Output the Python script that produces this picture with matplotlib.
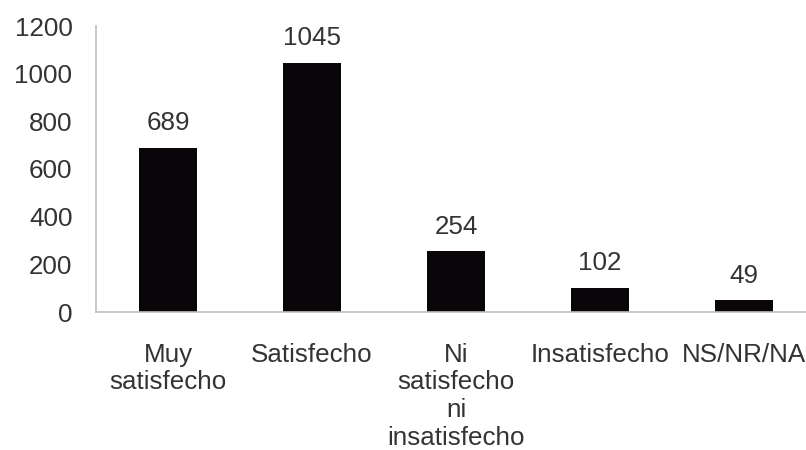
import matplotlib.pyplot as plt

categories = ['Muy\nsatisfecho', 'Satisfecho', 'Ni\nsatisfecho\nni\ninsatisfecho',
              'Insatisfecho', 'NS/NR/NA']
values = [689, 1045, 254, 102, 49]
y_ticks = [0, 200, 400, 600, 800, 1000, 1200]

plt.rcParams['font.family'] = ['Liberation Sans', 'DejaVu Sans']

fig = plt.figure(figsize=(8.06, 4.5), dpi=100)
# axes run slightly past the right edge like the original
ax = fig.add_axes([96 / 806, 1 - 312 / 450, 720 / 806, 286 / 450])

x = range(len(categories))
bars = ax.bar(x, values, width=0.4, color='#0a0508')

for xi, v in zip(x, values):
    ax.annotate(str(v), (xi, v), xytext=(0, 9), textcoords='offset points',
                ha='center', va='bottom', fontsize=18.7, color='#333333')

ax.set_xlim(-0.5, len(categories) - 0.5)
ax.set_ylim(0, 1200)
ax.set_yticks(y_ticks)
ax.set_xticks(list(x))
ax.set_xticklabels(categories, linespacing=1.2)

for side in ['top', 'right']:
    ax.spines[side].set_visible(False)
for side in ['left', 'bottom']:
    ax.spines[side].set_color('#c0c0c0')
    ax.spines[side].set_linewidth(1.2)

ax.tick_params(axis='both', length=0, labelsize=18.7, labelcolor='#333333')
ax.tick_params(axis='y', pad=17)
ax.tick_params(axis='x', pad=22)

fig.savefig('out.png', dpi=100)
